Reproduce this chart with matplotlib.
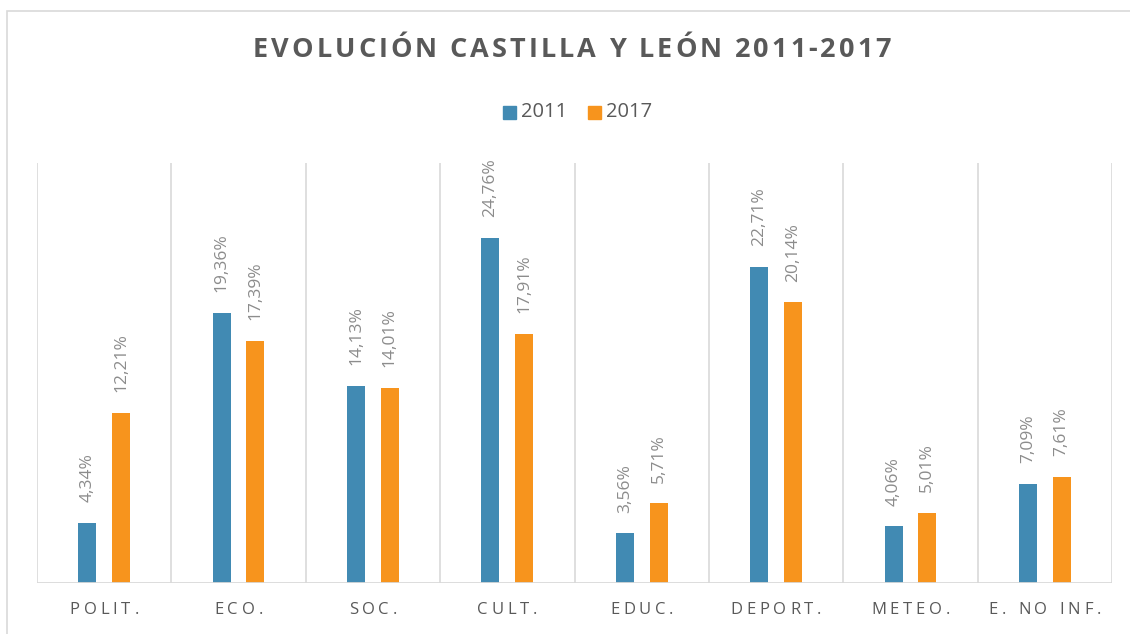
import matplotlib
matplotlib.use("Agg")
import matplotlib.pyplot as plt
from matplotlib.patches import Rectangle
from matplotlib.textpath import TextToPath
from matplotlib.font_manager import FontProperties

categories = ["POLIT.", "ECO.", "SOC.", "CULT.", "EDUC.", "DEPORT.", "METEO.", "E. NO INF."]
series_names = ["2011", "2017"]
values_2011 = [4.34, 19.36, 14.13, 24.76, 3.56, 22.71, 4.06, 7.09]
values_2017 = [12.21, 17.39, 14.01, 17.91, 5.71, 20.14, 5.01, 7.61]
title = "EVOLUCIÓN CASTILLA Y LEÓN 2011-2017"

BLUE = "#418AB3"
ORANGE = "#F7941D"
GRID = "#D9D9D9"
TXT = "#595959"
LBL = "#8C8C8C"
FONT = "Open Sans"

W, H = 1130, 634
DPI = 100
fig = plt.figure(figsize=(W / DPI, H / DPI), dpi=DPI)
fig.patch.set_facecolor("white")

# outer chart border
fig.patches.append(Rectangle((7 / W, -0.05), 1.2, (H - 11) / H + 0.05,
                             transform=fig.transFigure, fill=False,
                             edgecolor=GRID, linewidth=1.2))

left, right, top, bottom = 37, 1112, 163, 583
ax = fig.add_axes([left / W, (H - bottom) / H, (right - left) / W, (bottom - top) / H])

n = len(categories)
x = list(range(n))
bw = 0.134
off = 0.126
b1 = ax.bar([i - off for i in x], values_2011, width=bw, color=BLUE, zorder=3)
b2 = ax.bar([i + off for i in x], values_2017, width=bw, color=ORANGE, zorder=3)

ax.set_xlim(-0.5, n - 0.5)
ax.set_ylim(0, 30.15)
for s in ax.spines.values():
    s.set_visible(False)
ax.set_yticks([])
ax.set_xticks([])
for b in [i - 0.5 for i in range(n + 1)]:
    ax.axvline(b, color=GRID, linewidth=1.2, zorder=1)
ax.axhline(0, color=GRID, linewidth=2.0, zorder=4)

def fmt(v):
    return f"{v:.2f}".replace(".", ",") + "%"

for bars, vals in ((b1, values_2011), (b2, values_2017)):
    for rect, v in zip(bars, vals):
        ax.annotate(fmt(v), (rect.get_x() + rect.get_width() / 2, v),
                    xytext=(0, 15), textcoords="offset points",
                    rotation=90, ha="center", va="bottom",
                    fontsize=12.5, color=LBL, family=FONT)

t2p = TextToPath()

def spaced(xc_px, yc_px, s, size, spacing, weight="normal", color=TXT):
    fp = FontProperties(family=FONT, size=size, weight=weight)
    widths = []
    for ch in s:
        w, _, _ = t2p.get_text_width_height_descent(ch, fp, ismath=False)
        widths.append(w * DPI / 72)
    total = sum(widths) + spacing * (len(s) - 1)
    xp = xc_px - total / 2
    for ch, w in zip(s, widths):
        fig.text(xp / W, 1 - yc_px / H, ch, ha="left", va="center",
                 fontproperties=fp, color=color)
        xp += w + spacing

spaced(572, 50, title, 19.5, 3.0, weight="bold")

cat_w = (right - left) / n
for i, c in enumerate(categories):
    spaced(left + (i + 0.5) * cat_w, 610, c, 12, 3.8)

# legend
leg_y = 112
for xs, col, name in ((503, BLUE, series_names[0]), (588, ORANGE, series_names[1])):
    fig.patches.append(Rectangle((xs / W, 1 - (leg_y + 7) / H), 13 / W, 13 / H,
                                 transform=fig.transFigure, color=col))
    fig.text((xs + 18) / W, 1 - leg_y / H, name, ha="left", va="center",
             fontsize=14.5, color=TXT, family=FONT)

fig.savefig("out.png", dpi=DPI)
